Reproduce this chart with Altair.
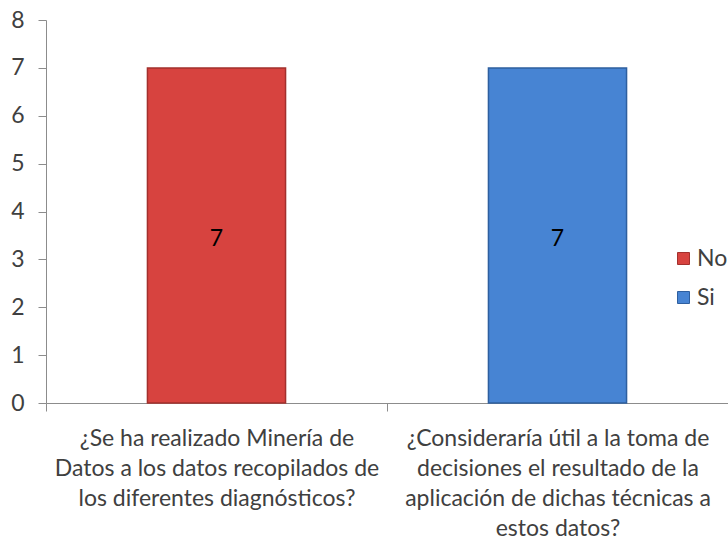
import altair as alt
import pandas as pd

# Survey questions (x categories), the answer each bar represents, and the counts
questions = [
    "¿Se ha realizado Minería de\nDatos a los datos recopilados de\nlos diferentes diagnósticos?",
    "¿Consideraría útil a la toma de\ndecisiones el resultado de la\naplicación de dichas técnicas a\nestos datos?",
]
answers = ["No", "Si"]
counts = [7, 7]

answer_colors = ["#D7433F", "#4784D3"]
edge_colors = ["#A3302D", "#2E5F9F"]

df = pd.DataFrame({"pregunta": questions, "respuesta": answers, "valor": counts})

FONT = "Lato"
TEXT = "#404040"
AXIS_GRAY = "#8C8C8C"
FS = 23

x_enc = alt.X(
    "pregunta:N",
    sort=questions,
    title=None,
    scale=alt.Scale(paddingInner=0, paddingOuter=0),
    axis=alt.Axis(
        labelAngle=0,
        labelExpr="split(datum.label, '\\n')",
        labelFont=FONT,
        labelFontSize=FS,
        labelColor=TEXT,
        labelLineHeight=30,
        labelLimit=0,
        labelPadding=16,
        labelBaseline="top",
        tickBand="extent",
        tickSize=8,
        tickColor=AXIS_GRAY,
        domainColor=AXIS_GRAY,
        grid=False,
    ),
)

y_enc = alt.Y(
    "valor:Q",
    title=None,
    scale=alt.Scale(domain=[0, 8], nice=False),
    axis=alt.Axis(
        values=list(range(0, 9)),
        labelFont=FONT,
        labelFontSize=FS,
        labelColor=TEXT,
        labelPadding=14,
        tickSize=8,
        tickColor=AXIS_GRAY,
        domainColor=AXIS_GRAY,
        grid=False,
    ),
)

bars = alt.Chart(df).mark_bar(
    strokeWidth=1.5, width=alt.RelativeBandSize(0.405)
).encode(
    x=x_enc,
    y=y_enc,
    color=alt.Color(
        "respuesta:N",
        sort=answers,
        title=None,
        scale=alt.Scale(domain=answers, range=answer_colors),
        legend=alt.Legend(
            orient="none",
            legendX=626,
            legendY=227,
            symbolType="square",
            symbolSize=144,
            symbolStrokeWidth=1,
            symbolStrokeColor="#555555",
            labelFont=FONT,
            labelFontSize=FS,
            labelColor=TEXT,
            labelOffset=2,
            rowPadding=15,
        ),
    ),
    stroke=alt.Stroke(
        "respuesta:N",
        scale=alt.Scale(domain=answers, range=edge_colors),
        legend=None,
    ),
)

labels = (
    alt.Chart(df)
    .transform_calculate(mitad="datum.valor / 2")
    .mark_text(font=FONT, fontSize=FS, color="#000000", baseline="middle", dy=4)
    .encode(
        x=alt.X("pregunta:N", sort=questions),
        y=alt.Y("mitad:Q"),
        text=alt.Text("valor:Q"),
    )
)

chart = (
    alt.layer(bars, labels)
    .properties(
        width=682,
        height=383,
        autosize=alt.AutoSizeParams(type="none"),
        padding={"left": 46, "top": 20, "right": 0, "bottom": 144},
        background="white",
    )
    .configure_view(stroke=None)
)

chart.save("out.html", embed_options={"renderer": "svg", "actions": False})
